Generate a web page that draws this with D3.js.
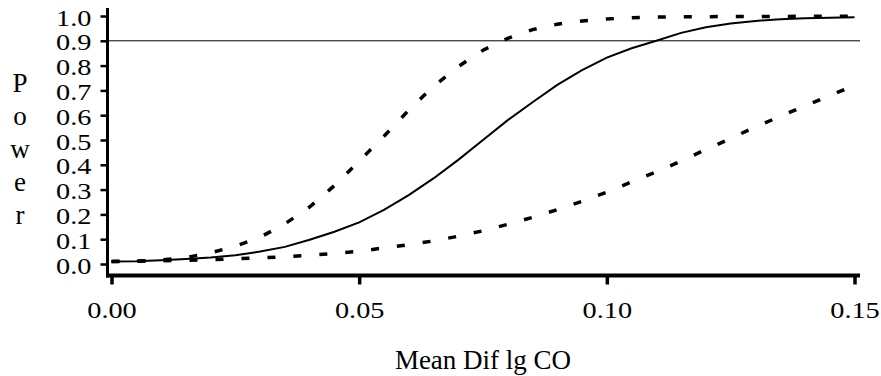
<!DOCTYPE html>
<html lang="en">
<head>
<meta charset="utf-8">
<title>Power curves</title>
<style>
	body { margin: 0; background: #fff; }
	svg { display: block; }
	.tick text { font-family: 'Liberation Serif', serif; font-size: 24px; fill: #000; }
	.label { font-family: 'Liberation Serif', serif; font-size: 27px; fill: #000; }
</style>
</head>
<body>
<svg width="881" height="376"></svg>

<script src="https://d3js.org/d3.v7.min.js"></script>
<script>
// mean difference (lg CO)
var meanDif = [0, 0.005, 0.01, 0.015, 0.02, 0.025, 0.03, 0.035, 0.04, 0.045,
	0.05, 0.055, 0.06, 0.065, 0.07, 0.075, 0.08, 0.085, 0.09, 0.095,
	0.10, 0.105, 0.11, 0.115, 0.12, 0.125, 0.13, 0.135, 0.14, 0.145, 0.15];

// power, middle curve (solid)
var powerMid = [0.010, 0.011, 0.015, 0.020, 0.026, 0.035, 0.050, 0.069, 0.098, 0.130,
	0.168, 0.218, 0.278, 0.345, 0.420, 0.500, 0.580, 0.652, 0.722, 0.782,
	0.832, 0.870, 0.900, 0.932, 0.955, 0.970, 0.980, 0.987, 0.991, 0.993, 0.995];

// power, upper curve (dashed)
var powerHigh = [0.010, 0.012, 0.016, 0.026, 0.045, 0.072, 0.108, 0.162, 0.230, 0.316,
	0.415, 0.515, 0.620, 0.716, 0.796, 0.862, 0.910, 0.945, 0.967, 0.980,
	0.988, 0.993, 0.996, 0.997, 0.997, 0.998, 0.998, 0.998, 0.999, 0.999, 0.999];

// power, lower curve (dashed)
var powerLow = [0.010, 0.011, 0.013, 0.015, 0.018, 0.021, 0.025, 0.029, 0.035, 0.043,
	0.051, 0.065, 0.078, 0.093, 0.112, 0.134, 0.160, 0.188, 0.219, 0.253,
	0.290, 0.331, 0.372, 0.415, 0.462, 0.506, 0.553, 0.595, 0.638, 0.679, 0.720];

var xTicks = [0, 0.05, 0.10, 0.15];
var yTicks = [0, 0.1, 0.2, 0.3, 0.4, 0.5, 0.6, 0.7, 0.8, 0.9, 1.0];
var refPower = 0.9;
var yLetters = ["P", "o", "w", "e", "r"];
var xTitle = "Mean Dif lg CO";

var svg = d3.select("svg");

var x = d3.scaleLinear().domain([0, 0.15]).range([111.5, 854.5]);
var y = d3.scaleLinear().domain([0, 1]).range([264, 16]);

var axisX = 107.5, axisY = 275.5; // where the two axis lines sit
var stretch = 1.18; // tick labels are drawn a bit wide in the original

// reference line at power 0.9
svg.append("line")
	.attr("x1", axisX).attr("x2", 860)
	.attr("y1", y(refPower)).attr("y2", y(refPower))
	.style("stroke", "#000")
	.style("stroke-width", 1);

// curves
var line = d3.line()
	.x(function(d, i) { return x(meanDif[i]); })
	.y(function(d) { return y(d); });

svg.append("path")
	.datum(powerLow)
	.attr("d", line)
	.style("fill", "none").style("stroke", "#000")
	.style("stroke-width", 3.5)
	.style("stroke-dasharray", "8,18");

svg.append("path")
	.datum(powerHigh)
	.attr("d", line)
	.style("fill", "none").style("stroke", "#000")
	.style("stroke-width", 3.5)
	.style("stroke-dasharray", "8,18");

svg.append("path")
	.datum(powerMid)
	.attr("d", line)
	.style("fill", "none").style("stroke", "#000")
	.style("stroke-width", 2);

// y axis
var gy = svg.append("g")
	.attr("transform", "translate(" + axisX + ",0)")
	.call(d3.axisLeft(y).tickValues(yTicks).tickSize(7).tickFormat(d3.format(".1f")));
gy.select(".domain").remove();
gy.selectAll(".tick line").style("stroke", "#000").style("stroke-width", 2.5);
gy.selectAll(".tick text")
	.attr("x", -16 / stretch)
	.attr("dy", "0.38em")
	.attr("transform", "scale(" + stretch + ",1)");

// x axis
var gx = svg.append("g")
	.attr("transform", "translate(0," + axisY + ")")
	.call(d3.axisBottom(x).tickValues(xTicks).tickSize(9).tickFormat(d3.format(".2f")));
gx.select(".domain").remove();
gx.selectAll(".tick line").style("stroke", "#000").style("stroke-width", 3.5);
gx.selectAll(".tick text")
	.attr("y", 25)
	.attr("transform", "scale(" + stretch + ",1)");

// axis lines
svg.append("line")
	.attr("x1", axisX).attr("x2", axisX)
	.attr("y1", 8).attr("y2", axisY + 2)
	.style("stroke", "#000").style("stroke-width", 3);
svg.append("line")
	.attr("x1", axisX - 1.5).attr("x2", 860)
	.attr("y1", axisY).attr("y2", axisY)
	.style("stroke", "#000").style("stroke-width", 4);

// y title, one letter per line
svg.selectAll(".ylab").data(yLetters)
	.enter().append("text")
	.attr("class", "label ylab")
	.attr("x", 20)
	.attr("y", function(d, i) { return 92 + i * 33; })
	.style("text-anchor", "middle")
	.text(function(d) { return d; });

// x title
svg.append("text")
	.attr("class", "label")
	.attr("x", (x(0) + x(0.15)) / 2)
	.attr("y", 369)
	.style("text-anchor", "middle")
	.text(xTitle);
</script>
</body>
</html>
